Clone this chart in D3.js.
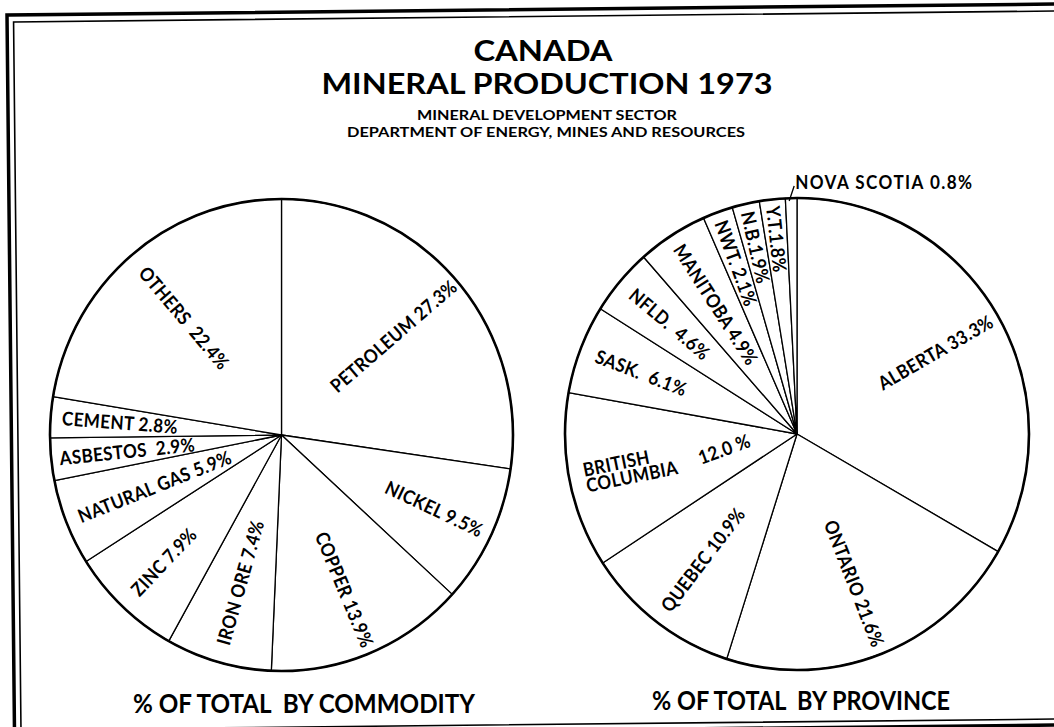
<!DOCTYPE html>
<html>
<head>
<meta charset="utf-8">
<script src="https://cdn.jsdelivr.net/npm/d3@7"></script>
<style>
  html, body { margin: 0; padding: 0; background: #fff; }
  svg { display: block; font-family: Lato, "DejaVu Sans", sans-serif; }
  svg text { white-space: pre; }
</style>
</head>
<body>
<div id="chart"></div>
<script>
// commodity shares, % of total value
const commodities = ["PETROLEUM", "NICKEL", "COPPER", "IRON ORE", "ZINC", "NATURAL GAS", "ASBESTOS", "CEMENT", "OTHERS"];
const commodityShare = [27.3, 9.5, 13.9, 7.4, 7.9, 5.9, 2.9, 2.8, 22.4];
const commodityText = ["PETROLEUM 27.3%", "NICKEL 9.5%", "COPPER 13.9%", "IRON ORE 7.4%", "ZINC 7.9%", "NATURAL GAS 5.9%", "ASBESTOS  2.9%", "CEMENT 2.8%", "OTHERS  22.4%"];

// province shares
const provinces = ["ALBERTA", "ONTARIO", "QUEBEC", "BRITISH COLUMBIA", "SASK.", "NFLD.", "MANITOBA", "NWT.", "N.B.", "Y.T.", "NOVA SCOTIA"];
const provinceShare = [33.3, 21.6, 10.9, 12.0, 6.1, 4.6, 4.9, 2.1, 1.9, 1.8, 0.8];
const provinceText = ["ALBERTA 33.3%", "ONTARIO 21.6%", "QUEBEC 10.9%", "BRITISH|COLUMBIA", "SASK.  6.1%", "NFLD.  4.6%", "MANITOBA 4.9%", "NWT. 2.1%", "N.B.1.9%", "Y.T.1.8%", "NOVA SCOTIA 0.8%"];

// label distance from centre (fraction of radius), layout only
const commodityLabelR = [0.64, 0.73, 0.71, 0.65, 0.74, 0.59, 0.67, 0.70, 0.65];
const provinceLabelR = [0.69, 0.68, 0.67, 0.74, 0.72, 0.72, 0.65, 0.77, 0.81, 0.83, 0];

const W = 1054, H = 727;
const LABEL_SIZE = 19, LABEL_SQUEEZE = 0.9;

const svg = d3.select("#chart").append("svg")
  .attr("width", W).attr("height", H);

// scanned frame, slightly skewed
const frame = svg.append("g").attr("transform", "translate(7,15) rotate(-0.6)")
  .attr("fill", "none").attr("stroke", "#000");
frame.append("rect").attr("x", 0).attr("y", 0).attr("width", 1080).attr("height", 721).attr("stroke-width", 3.5);
frame.append("rect").attr("x", 6.5).attr("y", 7).attr("width", 1060).attr("height", 708).attr("stroke-width", 1.6);

// titles
const title = svg.append("g").attr("text-anchor", "middle").attr("fill", "#000");
title.append("text").attr("x", 543).attr("y", 61).attr("font-size", 29).attr("font-weight", 700)
  .attr("textLength", 139).attr("lengthAdjust", "spacingAndGlyphs").text("CANADA");
title.append("text").attr("x", 547).attr("y", 94).attr("font-size", 28).attr("font-weight", 700)
  .attr("textLength", 451).attr("lengthAdjust", "spacingAndGlyphs").text("MINERAL PRODUCTION 1973");
title.append("text").attr("x", 547).attr("y", 120).attr("font-size", 12.5).attr("font-weight", 700)
  .attr("textLength", 260).attr("lengthAdjust", "spacingAndGlyphs").text("MINERAL DEVELOPMENT SECTOR");
title.append("text").attr("x", 546).attr("y", 137).attr("font-size", 12.5).attr("font-weight", 700)
  .attr("textLength", 398).attr("lengthAdjust", "spacingAndGlyphs").text("DEPARTMENT OF ENERGY, MINES AND RESOURCES");

function labelText(sel) {
  return sel.attr("font-size", LABEL_SIZE).attr("font-weight", 700).attr("letter-spacing", 0.4);
}

function drawPie(cx, cy, r, ry, names, values, texts, labelR, caption, capX, capY, capLen) {
  const g = svg.append("g").attr("transform", `translate(${cx},${cy})`);
  const pie = d3.pie().sort(null).value((d, i) => values[i]);
  const arcs = pie(names);
  const arc = d3.arc().innerRadius(0).outerRadius(r);

  // the scanned circles are a touch taller than wide
  const disc = g.append("g").attr("transform", `scale(1,${ry / r})`);
  disc.selectAll("path.slice").data(arcs).join("path")
    .attr("class", "slice")
    .attr("d", arc)
    .attr("fill", "#fff")
    .attr("stroke", "#000")
    .attr("stroke-width", 1.3)
    .attr("vector-effect", "non-scaling-stroke")
    .attr("stroke-linejoin", "round");

  disc.append("circle").attr("r", r).attr("fill", "none")
    .attr("stroke", "#000").attr("stroke-width", 2.6)
    .attr("vector-effect", "non-scaling-stroke");

  const pos = (d, k) => {
    const a = (d.startAngle + d.endAngle) / 2;
    return [k * r * Math.sin(a), -k * ry * Math.cos(a), a * 180 / Math.PI];
  };

  g.selectAll("g.lab").data(arcs).join("g").attr("class", "lab")
    .attr("transform", (d, i) => {
      const [x, y, deg] = pos(d, labelR[i]);
      const rot = deg < 180 ? deg - 90 : deg - 270;
      return `translate(${x},${y}) rotate(${rot}) scale(${LABEL_SQUEEZE},1)`;
    })
    .each(function (d, i) {
      if (labelR[i] === 0) return;
      const lines = texts[i].split("|");
      const multi = lines.length > 1;
      const t = labelText(d3.select(this).append("text"))
        .attr("text-anchor", multi ? "start" : "middle");
      lines.forEach((s, k) => {
        t.append("tspan").attr("x", multi ? -50 : 0)
          .attr("y", (k - (lines.length - 1) / 2) * 16)
          .attr("dy", "0.36em").text(s);
      });
    });

  svg.append("text").attr("x", capX).attr("y", capY)
    .attr("text-anchor", "middle").attr("font-size", 26).attr("font-weight", 700)
    .attr("textLength", capLen).attr("lengthAdjust", "spacingAndGlyphs")
    .text(caption);
  return { g, arcs, r, ry, pos };
}

drawPie(281.5, 435, 231.5, 236, commodities, commodityShare, commodityText, commodityLabelR,
  "% OF TOTAL  BY COMMODITY", 304, 713, 342);

const prov = drawPie(797, 434, 232, 236, provinces, provinceShare, provinceText, provinceLabelR,
  "% OF TOTAL  BY PROVINCE", 801, 710, 298);

// BC value sits closer to the centre
{
  const [x, y] = prov.pos(prov.arcs[3], 0.32);
  labelText(prov.g.append("text"))
    .attr("transform", `translate(${x},${y}) rotate(-20) scale(${LABEL_SQUEEZE},1)`)
    .attr("text-anchor", "middle").attr("dy", "0.36em")
    .text(provinceShare[3].toFixed(1) + " %");
}

// Nova Scotia: label outside with a leader
{
  const i = provinces.length - 1;
  const [x0, y0] = prov.pos(prov.arcs[i], 1);
  prov.g.append("path")
    .attr("d", d3.line()([[x0 - 2, y0 + 3], [x0 + 3, y0 - 12]]))
    .attr("stroke", "#000").attr("stroke-width", 1.3).attr("fill", "none");
  labelText(prov.g.append("text"))
    .attr("transform", `translate(${x0 + 4},${y0 - 9}) scale(${LABEL_SQUEEZE},1)`)
    .attr("letter-spacing", 1.6)
    .text(provinceText[i]);
}
</script>
</body>
</html>
